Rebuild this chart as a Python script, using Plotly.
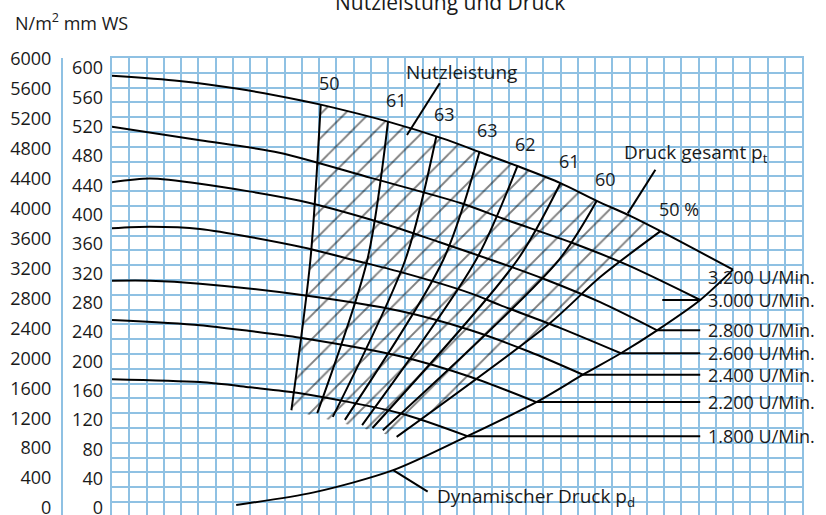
import plotly.graph_objects as go

# Kennlinien Druck gesamt je Drehzahl (x: Volumenstrom in Rasterteilen, y: mm WS)
rpm_labels = ["3.200 U/Min.", "3.000 U/Min.", "2.800 U/Min.", "2.600 U/Min.",
              "2.400 U/Min.", "2.200 U/Min.", "1.800 U/Min."]
p3200_x = [0, 3.9, 7.4, 10.9, 12.1, 16.0, 19.2, 21.3, 23.5, 26.0, 28.1, 30.1, 31.8, 36.0]
p3200_y = [576, 569, 558, 543, 537, 514, 491, 473, 454, 431, 407, 386, 366, 314]
p3000_x = [0, 5.1, 9.7, 15.0, 20.2, 22.9, 26.7, 29.9, 34.1]
p3000_y = [507, 489, 472, 438, 404, 381, 350, 320, 273]
p2800_x = [0, 2.2, 5.1, 10.9, 15.5, 19.0, 22.5, 25.2, 28.3, 31.6]
p2800_y = [432, 437, 430, 407, 378, 351, 323, 300, 270, 232]
p2600_x = [0, 2.2, 5.1, 10.9, 14.0, 16.7, 20.8, 22.5, 26.0, 29.5]
p2600_y = [370, 372, 369, 345, 327, 311, 282, 266, 235, 201]
p2400_x = [0, 2.2, 5.1, 10.9, 16.7, 20.8, 24.2, 27.3]
p2400_y = [299, 299, 295, 280, 258, 232, 203, 172]
p2200_x = [0, 5.1, 8.0, 10.9, 16.7, 20.8, 24.6]
p2200_y = [246, 239, 231, 222, 197, 169, 135]
p1800_x = [0, 5.1, 8.0, 10.9, 16.7, 20.6]
p1800_y = [166, 162, 155, 147, 120, 89]

# Anfang der Hinweislinien zu den Drehzahlen (None = keine Linie)
lead_x0 = [None, 31.9, 31.6, 29.5, 27.3, 24.6, 20.6]
lead_x1 = 34.1

# Dynamischer Druck
dyn_x = [7.2, 11.7, 16.3, 20.6, 24.6, 27.3, 29.5, 31.6, 34.1, 36.0]
dyn_y = [-4, 13, 43, 89, 135, 172, 201, 232, 273, 314]

# Linien gleicher Nutzleistung (Wirkungsgrad in %)
eff_labels = ["50", "61", "63", "63", "62", "61", "60", "50 %"]
eff_x = [[12.1, 11.5, 10.4], [16.0, 14.8, 11.9], [18.8, 17.0, 12.8], [21.3, 19.2, 13.5],
         [23.5, 21.1, 14.5], [26.0, 23.5, 15.1], [28.1, 25.9, 15.7], [31.8, 28.3, 25.4, 16.5]]
eff_y = [[537, 327, 124], [514, 327, 120], [494, 327, 115], [473, 327, 111],
         [454, 327, 104], [431, 327, 100], [407, 327, 97], [366, 304, 242, 88]]

# Hinweislinien der Beschriftungen
nutz_x, nutz_y = [17.1, 19.0], [496, 566]
druck_x, druck_y = [29.9, 31.5], [390, 449]
dynl_x, dynl_y = [16.3, 18.3], [43, 14]

mm_ticks = list(range(0, 601, 40))
nm_ticks = list(range(0, 6001, 400))

GRID = "#8fc1e3"
INK = "#1a1a1a"
FONT = "Open Sans"

curves = [(p3200_x, p3200_y), (p3000_x, p3000_y), (p2800_x, p2800_y), (p2600_x, p2600_y),
          (p2400_x, p2400_y), (p2200_x, p2200_y), (p1800_x, p1800_y)]

fig = go.Figure()

# schraffierte Flaeche zwischen den 50 % Linien
x_lo, x_hi = eff_x[0][0], eff_x[-1][0]
top = [(x, y) for x, y in zip(p3200_x, p3200_y) if x_lo <= x <= x_hi]
poly_x = [p[0] for p in top] + eff_x[-1] + eff_x[0][::-1]
poly_y = [p[1] for p in top] + eff_y[-1] + eff_y[0][::-1]
fig.add_trace(go.Scatter(x=poly_x, y=poly_y, mode="lines", fill="toself",
                         line=dict(width=0), fillcolor="rgba(0,0,0,0)",
                         fillpattern=dict(shape="/", size=17, solidity=0.11,
                                          fgcolor="black", bgcolor="rgba(0,0,0,0)"),
                         hoverinfo="skip"))

for cx, cy in curves:
    fig.add_trace(go.Scatter(x=cx, y=cy, mode="lines",
                             line=dict(color="black", width=2, shape="spline", smoothing=0.8)))

for (cx, cy), x0 in zip(curves, lead_x0):
    if x0 is not None:
        fig.add_trace(go.Scatter(x=[x0, lead_x1], y=[cy[-1], cy[-1]], mode="lines",
                                 line=dict(color="black", width=2)))

fig.add_trace(go.Scatter(x=dyn_x, y=dyn_y, mode="lines",
                         line=dict(color="black", width=2, shape="spline", smoothing=0.8)))

for ex, ey in zip(eff_x, eff_y):
    fig.add_trace(go.Scatter(x=ex, y=ey, mode="lines",
                             line=dict(color="black", width=2, shape="spline", smoothing=0.8)))

for lx, ly in [(nutz_x, nutz_y), (druck_x, druck_y), (dynl_x, dynl_y)]:
    fig.add_trace(go.Scatter(x=lx, y=ly, mode="lines", line=dict(color="black", width=2)))

# Traeger fuer die beiden Beschriftungsachsen
fig.add_trace(go.Scatter(x=[None], y=[None], yaxis="y2", mode="lines"))
fig.add_trace(go.Scatter(x=[None], y=[None], yaxis="y3", mode="lines"))

ann = []
for ex, ey, t in zip(eff_x, eff_y, eff_labels):
    ann.append(dict(x=ex[0], y=ey[0], text=t, xanchor="left", yanchor="middle",
                    xshift=-4, yshift=22, showarrow=False, font=dict(size=18)))
for i, ((cx, cy), t) in enumerate(zip(curves, rpm_labels)):
    ann.append(dict(x=lead_x1, y=cy[-1], text=t, xanchor="left", yanchor="middle",
                    xshift=6, yshift=-7 if i == 0 else 0, showarrow=False, font=dict(size=18)))
ann.append(dict(x=nutz_x[1], y=nutz_y[1], text="Nutzleistung", xanchor="center",
                yanchor="middle", xshift=22, yshift=11, showarrow=False, font=dict(size=19)))
ann.append(dict(x=druck_x[1], y=druck_y[1], text="Druck gesamt p<sub>t</sub>", xanchor="left",
                yanchor="middle", xshift=-33, yshift=17, showarrow=False, font=dict(size=19)))
ann.append(dict(x=dynl_x[1], y=dynl_y[1], text="Dynamischer Druck p<sub>d</sub>", xanchor="left",
                yanchor="middle", xshift=7, yshift=-5, showarrow=False, font=dict(size=19)))
ann.append(dict(xref="paper", yref="paper", x=0.5243, y=1.1225, text="Nutzleistung und Druck",
                xanchor="center", yanchor="middle", showarrow=False, font=dict(size=21)))
ann.append(dict(xref="paper", yref="paper", x=-0.0662, y=1.0788, text="N/m<sup>2</sup> mm WS",
                xanchor="left", yanchor="middle", showarrow=False, font=dict(size=18)))

fig.update_layout(
    width=826, height=515,
    margin=dict(l=62, r=24, t=58, b=0, autoexpand=False),
    plot_bgcolor="white", paper_bgcolor="white",
    showlegend=False,
    font=dict(family=FONT, size=18, color=INK),
    annotations=ann,
    xaxis=dict(domain=[50 / 740, 1], range=[0, 40], tickmode="linear", tick0=0, dtick=1,
               showticklabels=False, showgrid=True, gridcolor=GRID, gridwidth=2,
               zeroline=False, showline=True, linecolor=GRID, linewidth=2, mirror=True, ticks=""),
    yaxis=dict(range=[-17.57, 600], tickmode="linear", tick0=0, dtick=20,
               showticklabels=False, showgrid=True, gridcolor=GRID, gridwidth=2,
               zeroline=False, showline=True, linecolor=GRID, linewidth=2, mirror=True, ticks=""),
    yaxis2=dict(overlaying="y", anchor="free", position=0, side="left",
                range=[-93.5, 6013.4], tickmode="array", tickvals=nm_ticks,
                showgrid=False, zeroline=False, showline=True, linecolor=GRID, linewidth=2,
                ticks="", ticklabelstandoff=6, ticklabeloverflow="allow",
                tickfont=dict(size=18)),
    yaxis3=dict(overlaying="y", anchor="free", position=50 / 740, side="left",
                range=[-9.55, 613.6], tickmode="array", tickvals=mm_ticks,
                showgrid=False, zeroline=False, showline=False, ticks="", ticklabelstandoff=9,
                ticklabeloverflow="allow", tickfont=dict(size=18)),
)

# Seitenrand des Browsers entfernen, damit die Grafik bei (0, 0) beginnt
fig.write_html("out.html", config={"displayModeBar": False},
               post_script="document.body.style.margin = '0';")
